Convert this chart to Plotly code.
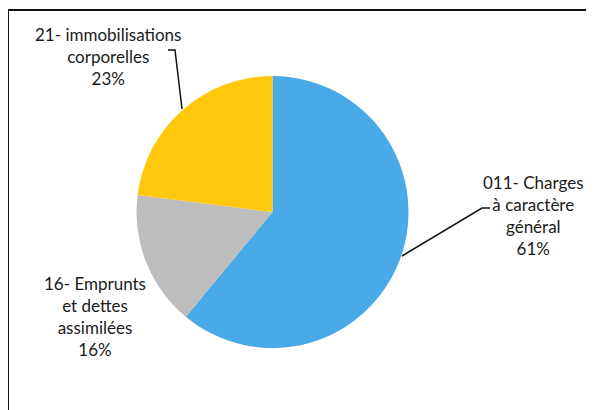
import plotly.graph_objects as go

# the page body adds an 8px margin; figure is sized to fill the rest
OFF = 8
W, H = 594 - OFF, 410 - OFF

categories = ["011- Charges à caractère général",
              "16- Emprunts et dettes assimilées",
              "21- immobilisations corporelles"]
label_lines = ["011- Charges<br>à caractère<br>général",
               "16- Emprunts<br>et dettes<br>assimilées",
               "21- immobilisations<br>corporelles"]
values = [61, 16, 23]
colors = ["#4AAAE8", "#BDBDBD", "#FFC80A"]

def px(x):
    return (x - OFF) / W

def py(y):
    return 1 - (y - OFF) / H

cx, cy, r = 272.5, 212, 136

fig = go.Figure(go.Pie(
    labels=categories,
    values=values,
    sort=False,
    direction="clockwise",
    rotation=0,
    marker=dict(colors=colors, line=dict(width=0)),
    textinfo="none",
    hoverinfo="label+percent",
    showlegend=False,
    domain=dict(x=[px(cx - r), px(cx + r)], y=[py(cy + r), py(cy - r)]),
))

total = sum(values)
label_pos = [(533, 215), (95, 316.5), (108, 57)]
font = dict(family="Lato, sans-serif", size=17, color="#1a1a1a")
for txt, v, (lx, ly) in zip(label_lines, values, label_pos):
    pct = round(100 * v / total)
    fig.add_annotation(x=px(lx), y=py(ly), xref="paper", yref="paper",
                       text=f"{txt}<br>{pct}%", showarrow=False,
                       xanchor="center", yanchor="middle", align="center",
                       font=font)

line = dict(color="#111111", width=1.5)
# leader lines
fig.add_shape(type="path", xref="paper", yref="paper",
              path=f"M {px(402)} {py(256)} L {px(482)} {py(208)} L {px(490)} {py(208)}",
              line=line)
fig.add_shape(type="path", xref="paper", yref="paper",
              path=f"M {px(182)} {py(109)} L {px(175)} {py(50)} L {px(168)} {py(50)}",
              line=line)
# frame
fig.add_shape(type="rect", xref="paper", yref="paper",
              x0=px(8), y0=py(430), x1=px(610), y1=py(10),
              line=dict(color="#111111", width=2))

fig.update_layout(width=W, height=H, margin=dict(l=0, r=0, t=0, b=0),
                  paper_bgcolor="white", plot_bgcolor="white")
fig.write_html("out.html")
